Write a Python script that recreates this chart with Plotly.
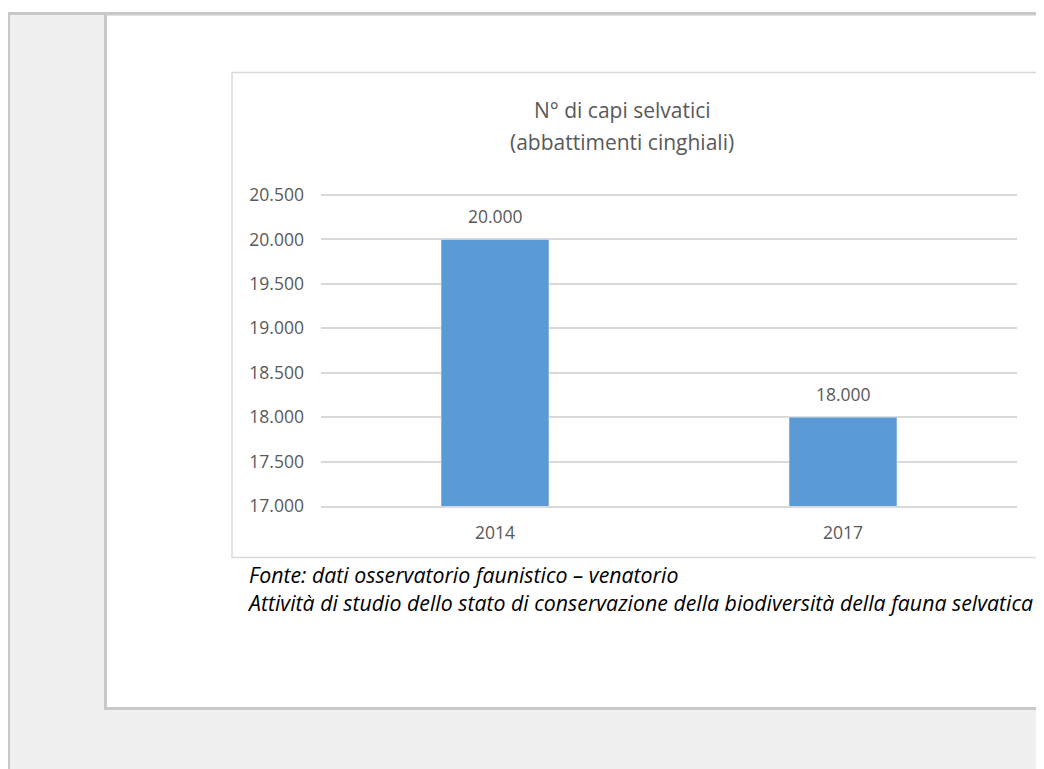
import plotly.graph_objects as go

# Data
anni = ["2014", "2017"]
abbattimenti = [20000, 18000]
y_ticks = [17000, 17500, 18000, 18500, 19000, 19500, 20000, 20500]

titolo_1 = "N° di capi selvatici"
titolo_2 = "(abbattimenti cinghiali)"
fonte = "Fonte: dati osservatorio faunistico – venatorio"
attivita = "Attività di studio dello stato di conservazione della biodiversità della fauna selvatica"

# the page puts the plot 8px in from the top-left corner (body margin)
OFF = 8
W, H = 1044 - OFF, 769 - OFF
GRID = "#d9d9d9"
TXT = "#595959"
BORDER = "#c8c8c8"


def fx(p):
    # window pixel -> paper x
    return (p - OFF) / W


def fy(p):
    # window pixel -> paper y
    return 1 - (p - OFF) / H


fig = go.Figure()

fig.add_trace(go.Bar(
    x=anni,
    y=abbattimenti,
    marker_color="#5b9bd5",
    hoverinfo="x+y",
))

shapes = [
    # grey page background framed by the document border
    dict(type="rect", x0=fx(8.5), x1=fx(1050), y0=fy(775), y1=fy(13.5),
         fillcolor="#f0f0f0", line=dict(color=BORDER, width=3)),
    # white page area
    dict(type="rect", x0=fx(105.5), x1=fx(1050), y0=fy(708.5), y1=fy(14),
         fillcolor="white", line=dict(color=BORDER, width=3)),
    # chart frame
    dict(type="rect", x0=fx(232), x1=fx(1060), y0=fy(557.5), y1=fy(72.5),
         fillcolor="white", line=dict(color=GRID, width=1.5)),
]
for s in shapes:
    s.update(xref="paper", yref="paper", layer="below")

annotations = [
    dict(text=titolo_1, x=fx(622), y=fy(110)),
    dict(text=titolo_2, x=fx(622), y=fy(142)),
]
for a in annotations:
    a.update(xref="paper", yref="paper", showarrow=False, xanchor="center",
             yanchor="middle", font=dict(size=21, color=TXT))

# source note under the chart
annotations.append(dict(
    text="<i>" + fonte + "</i><br><i>" + attivita + "</i>",
    x=fx(245), y=fy(588), xref="paper", yref="paper",
    showarrow=False, xanchor="left", yanchor="middle", align="left",
    font=dict(size=21.3, color="black"),
))

# data labels above the bars (category index on the x axis)
for i, valore in enumerate(abbattimenti):
    annotations.append(dict(
        text=f"{valore:,}".replace(",", "."), x=i, y=valore, xref="x", yref="y",
        showarrow=False, yanchor="middle", yshift=23,
        font=dict(size=17.5, color=TXT),
    ))

fig.update_layout(
    width=W, height=H,
    margin=dict(l=0, r=0, t=0, b=0, autoexpand=False),
    paper_bgcolor="white",
    plot_bgcolor="rgba(0,0,0,0)",
    separators=",.",
    font=dict(family="Open Sans, sans-serif", color=TXT),
    showlegend=False,
    bargap=0.69,
    shapes=shapes,
    annotations=annotations,
    xaxis=dict(
        domain=[fx(321), fx(1017)],
        type="category",
        range=[-0.5, 1.5],
        showgrid=False,
        showline=True,
        linecolor=GRID,
        linewidth=1.5,
        zeroline=False,
        ticks="",
        automargin=False,
        tickfont=dict(size=17.5, color=TXT),
        ticklabelstandoff=10,
    ),
    yaxis=dict(
        domain=[fy(506), fy(190.56)],
        range=[17000, 20550],
        tickvals=y_ticks,
        tickformat=",d",
        showgrid=True,
        gridcolor=GRID,
        gridwidth=1.5,
        zeroline=False,
        showline=False,
        ticks="",
        automargin=False,
        tickfont=dict(size=17.5, color=TXT),
        ticklabelstandoff=16,
    ),
)

fig.write_html("out.html")
